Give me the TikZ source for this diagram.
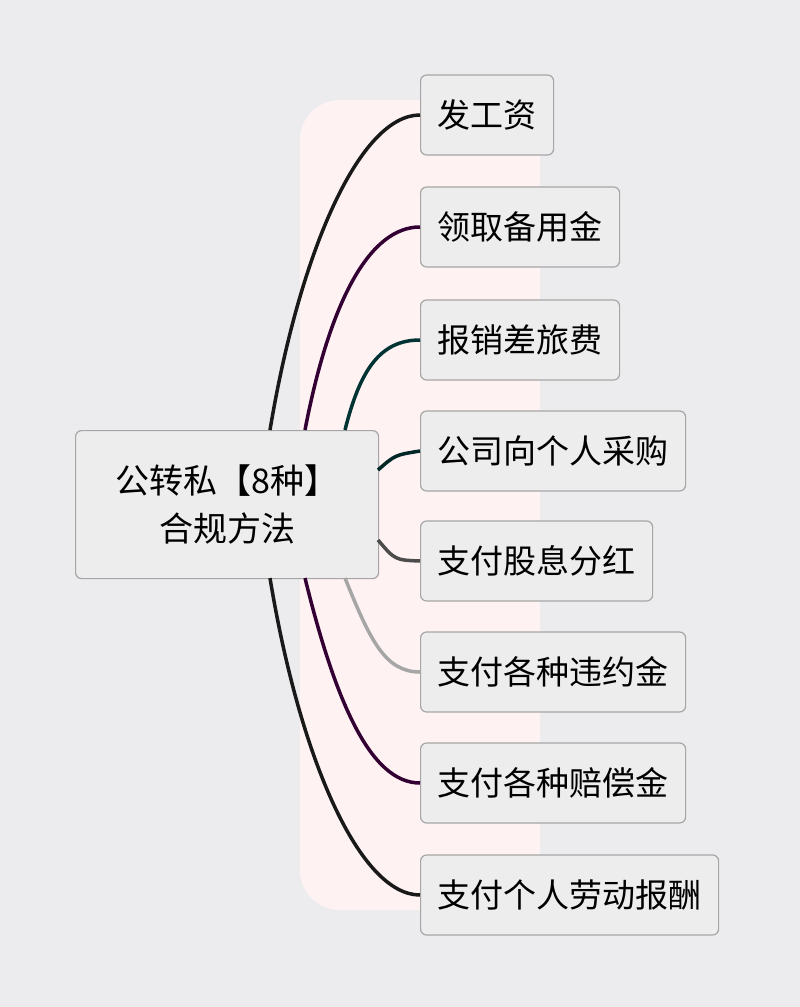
\documentclass[tikz,border=0pt]{standalone}
\usepackage{fontspec}
\setmainfont{Noto Sans CJK SC}
\usetikzlibrary{positioning}
\definecolor{bg}{HTML}{ECECEE}
\definecolor{boxfill}{HTML}{EDEDEE}
\begin{document}
\begin{tikzpicture}[x=1pt,y=-1pt,
		leaf/.style={draw=gray!70,fill=boxfill,rounded corners=6pt,line width=1.2pt,
			minimum height=80pt,inner xsep=17pt,anchor=west,font=\fontsize{33}{38}\selectfont},
		branch/.style={line width=3.5pt}
	]
	\fill[bg] (0,0) rectangle (800,1007);
	\fill[pink!20,rounded corners=40pt] (300,100) rectangle (540,910);
	\node[leaf,minimum width=303pt,minimum height=148pt,align=center,anchor=north west,
		font=\fontsize{34}{48}\selectfont] (root) at (75,430) {公转私【8种】\\合规方法};
	\node[leaf] (l1) at (420,115) {发工资};
	\node[leaf] (l2) at (420,227) {领取备用金};
	\node[leaf] (l3) at (420,340) {报销差旅费};
	\node[leaf] (l4) at (420,451) {公司向个人采购};
	\node[leaf] (l5) at (420,561) {支付股息分红};
	\node[leaf] (l6) at (420,672) {支付各种违约金};
	\node[leaf] (l7) at (420,783) {支付各种赔偿金};
	\node[leaf] (l8) at (420,895) {支付个人劳动报酬};
	% start points on the root box
	\coordinate (s1) at (270,430);
	\coordinate (s2) at (305,430);
	\coordinate (s3) at (345,430);
	\coordinate (s4) at (378,470);
	\coordinate (s5) at (378,540);
	\coordinate (s6) at (345,578);
	\coordinate (s7) at (305,578);
	\coordinate (s8) at (270,578);
	\begin{scope}[branch]
		\draw[black!90] (s1) .. controls (300,250) and (360,115) .. (l1.west);
		\draw[violet!40!black] (s2) .. controls (330,300) and (370,227) .. (l2.west);
		\draw[teal!40!black] (s3) .. controls (360,370) and (380,340) .. (l3.west);
		\draw[teal!30!black] (s4) .. controls (395,455) .. (l4.west);
		\draw[gray!60!black] (s5) .. controls (395,560) .. (l5.west);
		\draw[gray!70] (s6) .. controls (370,640) and (385,672) .. (l6.west);
		\draw[violet!40!black] (s7) .. controls (335,700) and (370,783) .. (l7.west);
		\draw[black!90] (s8) .. controls (300,760) and (360,895) .. (l8.west);
	\end{scope}
\end{tikzpicture}
\end{document}
